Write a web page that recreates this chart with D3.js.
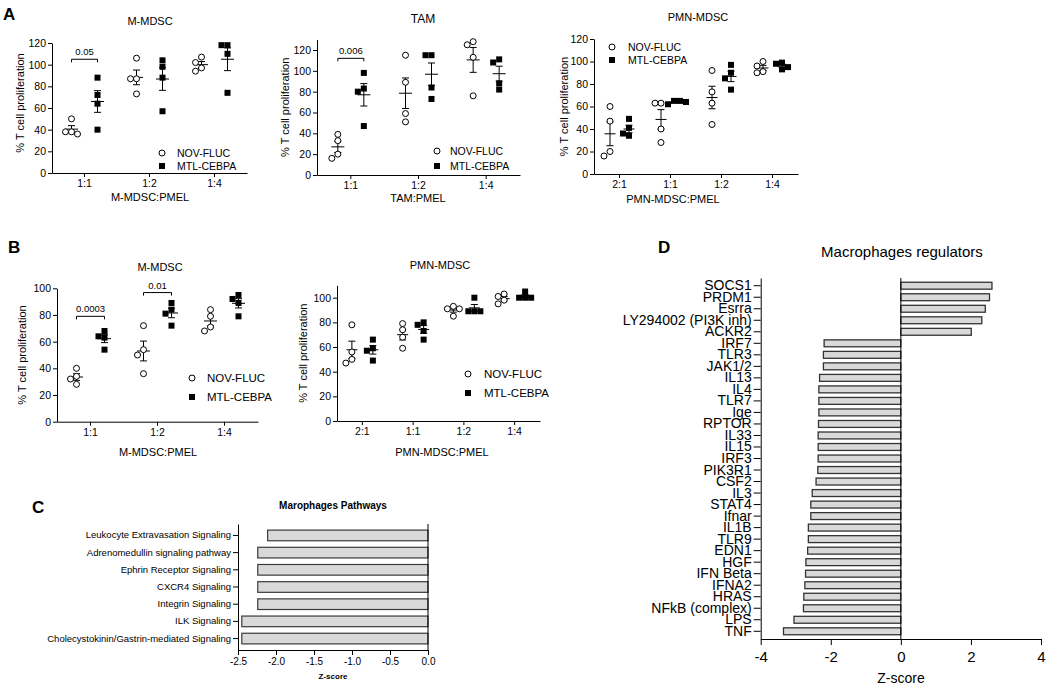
<!DOCTYPE html>
<html>
<head>
<meta charset="utf-8">
<script src="https://cdn.jsdelivr.net/npm/d3@7"></script>
<style>
  body { margin: 0; background: #fff; }
  svg text { font-family: "Liberation Sans", Arial, sans-serif; }
</style>
</head>
<body>
<div id="container"></div>
<script>
// ---- data ----
const seriesNames = ["NOV-FLUC", "MTL-CEBPA"];

// A: M-MDSC
const aMdscGroups = ["1:1", "1:2", "1:4"];
const aMdscNov = [[50, 38, 36, 38], [106, 87, 87, 73], [107, 102, 97, 94]];
const aMdscMtl = [[88, 72, 64, 40], [104, 98, 88, 57], [118, 118, 110, 74]];
// A: TAM
const aTamGroups = ["1:1", "1:2", "1:4"];
const aTamNov = [[39, 33, 16, 20], [115, 89, 59, 51], [125, 128, 113, 76]];
const aTamMtl = [[83, 98, 80, 47], [115, 115, 84, 73], [108, 111, 88, 82]];
// A: PMN-MDSC
const aPmnGroups = ["2:1", "1:1", "1:2", "1:4"];
const aPmnNov = [[16, 47, 60, 20], [63, 63, 40, 28], [92, 73, 63, 44], [96, 100, 90, 91]];
const aPmnMtl = [[34, 41, 49, 36], [62, 64, 65, 65], [97, 90, 85, 75], [99, 98, 95, 93]];
// B: M-MDSC
const bMdscGroups = ["1:1", "1:2", "1:4"];
const bMdscNov = [[40, 34, 32, 28], [72, 54, 50, 36], [84, 79, 71, 68]];
const bMdscMtl = [[68, 64, 63, 54], [89, 84, 81, 72], [95, 92, 89, 79]];
// B: PMN-MDSC
const bPmnGroups = ["2:1", "1:1", "1:2", "1:4"];
const bPmnNov = [[78, 56, 50, 47], [79, 74, 68, 59], [93, 91, 91, 85], [101, 103, 95, 98]];
const bPmnMtl = [[66, 59, 57, 49], [78, 80, 73, 66], [100, 89, 89, 89], [105, 100, 100, 100]];

// C: pathways
const cPathways = ["Leukocyte Extravasation Signaling", "Adrenomedullin signaling pathway",
  "Ephrin Receptor Signaling", "CXCR4 Signaling", "Integrin Signaling", "ILK Signaling",
  "Cholecystokinin/Gastrin-mediated Signaling"];
const cZscore = [-2.11, -2.24, -2.24, -2.24, -2.24, -2.45, -2.45];
const cTicks = [-2.5, -2.0, -1.5, -1.0, -0.5, 0.0];

// D: regulators
const dRegulators = ["SOCS1", "PRDM1", "Esrra", "LY294002 (PI3K inh)", "ACKR2", "IRF7", "TLR3",
  "JAK1/2", "IL13", "IL4", "TLR7", "Ige", "RPTOR", "IL33", "IL15", "IRF3", "PIK3R1", "CSF2", "IL3",
  "STAT4", "Ifnar", "IL1B", "TLR9", "EDN1", "HGF", "IFN Beta", "IFNA2", "HRAS", "NFkB (complex)",
  "LPS", "TNF"];
const dZscore = [2.6, 2.53, 2.41, 2.31, 2.01, -2.19, -2.21, -2.21, -2.32, -2.34, -2.34, -2.34,
  -2.35, -2.36, -2.36, -2.36, -2.37, -2.42, -2.53, -2.57, -2.57, -2.64, -2.64, -2.66, -2.71,
  -2.72, -2.74, -2.77, -2.78, -3.05, -3.35];
const dTicks = [-4, -2, 0, 2, 4];

const width = 1050, height = 686;
const svg = d3.select("#container").append("svg")
  .attr("width", width).attr("height", height);
svg.append("rect").attr("width", width).attr("height", height).attr("fill", "#fff");

const minus = d => (d < 0 ? "-" + Math.abs(d) : "" + d);
const R = 3;    // circle radius
const SQ = 6;   // square side

function styleAxis(sel, size) {
  sel.select(".domain").attr("stroke", "#000");
  sel.selectAll(".tick line").attr("stroke", "#000");
  sel.selectAll(".tick text").attr("fill", "#000").attr("font-size", size)
    .attr("font-family", "Liberation Sans, Arial, sans-serif");
}

// spread points that would overlap, like a small beeswarm
function swarm(vals, y, cx) {
  const placed = [];
  vals.map(v => ({ v, py: y(v) })).sort((a, b) => a.py - b.py).forEach(p => {
    for (const off of [0, -6, 6, -12, 12]) {
      if (placed.every(q => Math.hypot(q.px - (cx + off), q.py - p.py) >= 5.8)) { p.px = cx + off; break; }
    }
    if (p.px == null) p.px = cx;
    placed.push(p);
  });
  return placed;
}

function scatterPanel(p) {
  const g = svg.append("g");
  const yTop = p.y0 - (p.y0 - p.refPx) * p.yMax / p.refVal;
  const x = d3.scaleBand().domain(p.groups).range([p.x0, p.x1]);
  const y = d3.scaleLinear().domain([0, p.yMax]).range([p.y0, yTop]);

  g.append("g").attr("transform", `translate(${p.x0},0)`)
    .call(d3.axisLeft(y).tickValues(d3.range(0, p.yMax + 1, 20)).tickSize(4).tickSizeOuter(0).tickPadding(2))
    .call(s => styleAxis(s, 10.5));
  g.append("g").attr("transform", `translate(0,${p.y0})`)
    .call(d3.axisBottom(x).tickSize(4).tickSizeOuter(0))
    .call(s => styleAxis(s, 10.5));

  g.append("text").attr("x", p.titleX).attr("y", p.titleY).attr("text-anchor", "middle")
    .attr("font-size", p.titleSize || 11).text(p.title);
  g.append("text").attr("x", p.xlabX).attr("y", p.xlabY).attr("text-anchor", "middle")
    .attr("font-size", 11).text(p.xlab);
  g.append("text").attr("transform", `translate(${p.ylabX},${(p.y0 + yTop) / 2 - (p.ylabShift || 0)}) rotate(-90)`)
    .attr("text-anchor", "middle").attr("font-size", 11).text("% T cell proliferation");

  const series = [p.nov, p.mtl];
  series.forEach((data, si) => {
    data.forEach((vals, gi) => {
      const cx = x(p.groups[gi]) + x.bandwidth() / 2 + (si === 0 ? -p.off : p.off);
      const pts = swarm(vals, y, cx);
      const mean = d3.mean(vals);
      const sem = d3.deviation(vals) / Math.sqrt(vals.length);
      const gg = g.append("g");
      gg.append("line").attr("x1", cx).attr("x2", cx).attr("y1", y(mean - sem)).attr("y2", y(mean + sem)).attr("stroke", "#000");
      [mean - sem, mean + sem].forEach(v => gg.append("line")
        .attr("x1", cx - 3.5).attr("x2", cx + 3.5).attr("y1", y(v)).attr("y2", y(v)).attr("stroke", "#000"));
      gg.append("line").attr("x1", cx - p.meanW / 2).attr("x2", cx + p.meanW / 2)
        .attr("y1", y(mean)).attr("y2", y(mean)).attr("stroke", "#000");
      if (si === 0) {
        gg.selectAll("circle").data(pts).join("circle")
          .attr("cx", d => d.px).attr("cy", d => d.py).attr("r", R)
          .attr("fill", "#fff").attr("stroke", "#000").attr("stroke-width", 1);
      } else {
        gg.selectAll("rect").data(pts).join("rect")
          .attr("x", d => d.px - SQ / 2).attr("y", d => d.py - SQ / 2).attr("width", SQ).attr("height", SQ)
          .attr("fill", "#000");
      }
    });
  });

  // significance brackets
  (p.brackets || []).forEach(b => {
    const c = x(p.groups[b.group]) + x.bandwidth() / 2;
    const x1 = c - p.off, x2 = c + p.off, yy = y(b.value);
    g.append("path").attr("d", `M${x1},${yy + 3}V${yy}H${x2}V${yy + 3}`)
      .attr("fill", "none").attr("stroke", "#000");
    g.append("text").attr("x", c).attr("y", yy - 4).attr("text-anchor", "middle")
      .attr("font-size", 9.5).text(b.label);
  });

  // legend
  const lg = g.append("g");
  lg.append("circle").attr("cx", p.legX).attr("cy", p.legY[0]).attr("r", R)
    .attr("fill", "#fff").attr("stroke", "#000");
  lg.append("rect").attr("x", p.legX - SQ / 2).attr("y", p.legY[1] - SQ / 2).attr("width", SQ).attr("height", SQ);
  seriesNames.forEach((n, i) => lg.append("text").attr("x", p.legTextX).attr("y", p.legY[i])
    .attr("dy", "0.36em").attr("font-size", p.legSize).text(n));
}

scatterPanel({ groups: aMdscGroups, nov: aMdscNov, mtl: aMdscMtl, x0: 52, x1: 247, y0: 173, refVal: 120, refPx: 43, yMax: 120,
  off: 13, meanW: 13, title: "M-MDSC", titleX: 150, titleY: 25, xlab: "M-MDSC:PMEL", xlabX: 150, xlabY: 201, ylabX: 24, ylabShift: 5,
  legX: 162, legY: [153, 166], legTextX: 177, legSize: 10.5, brackets: [{ group: 0, value: 105, label: "0.05" }] });
scatterPanel({ groups: aTamGroups, nov: aTamNov, mtl: aTamMtl, x0: 317, x1: 520, y0: 175, refVal: 120, refPx: 50, yMax: 130,
  off: 13, meanW: 13, title: "TAM", titleX: 423, titleY: 23, titleSize: 12, xlab: "TAM:PMEL", xlabX: 418, xlabY: 202, ylabX: 289,
  legX: 437, legY: [151, 166], legTextX: 450, legSize: 10.5, brackets: [{ group: 0, value: 112, label: "0.006" }] });
scatterPanel({ groups: aPmnGroups, nov: aPmnNov, mtl: aPmnMtl, x0: 594, x1: 798, y0: 174, refVal: 120, refPx: 39, yMax: 120,
  off: 9.5, meanW: 11, title: "PMN-MDSC", titleX: 698, titleY: 21, xlab: "PMN-MDSC:PMEL", xlabX: 673, xlabY: 203, ylabX: 568,
  legX: 612, legY: [47, 60], legTextX: 628, legSize: 10.5 });
scatterPanel({ groups: bMdscGroups, nov: bMdscNov, mtl: bMdscMtl, x0: 57, x1: 258, y0: 421.7, refVal: 100, refPx: 288.3, yMax: 100,
  off: 14, meanW: 13, title: "M-MDSC", titleX: 160, titleY: 271, xlab: "M-MDSC:PMEL", xlabX: 158, xlabY: 456, ylabX: 26,
  legX: 192, legY: [378, 397], legTextX: 207, legSize: 11.5,
  brackets: [{ group: 0, value: 79, label: "0.0003" }, { group: 1, value: 96.8, label: "0.01" }] });
scatterPanel({ groups: bPmnGroups, nov: bPmnNov, mtl: bPmnMtl, x0: 337, x1: 540, y0: 421, refVal: 100, refPx: 297.7, yMax: 110,
  off: 10.5, meanW: 11, title: "PMN-MDSC", titleX: 440, titleY: 269, xlab: "PMN-MDSC:PMEL", xlabX: 442, xlabY: 456, ylabX: 307,
  legX: 468, legY: [374, 393], legTextX: 484, legSize: 11.5 });

// ---- C: pathway bars ----
{
  const g = svg.append("g");
  const x = d3.scaleLinear().domain([-2.5, 0]).range([238, 428]);
  const y = d3.scaleBand().domain(cPathways).range([524, 650]).paddingInner(0.38).paddingOuter(0.355);
  g.append("g").attr("transform", "translate(238,0)")
    .call(d3.axisLeft(y).tickSize(5).tickSizeOuter(0).tickPadding(2))
    .call(s => styleAxis(s, 9.5));
  g.append("g").attr("transform", "translate(0,650)")
    .call(d3.axisBottom(x).tickValues(cTicks).tickFormat(d => d.toFixed(1)).tickSize(5).tickSizeOuter(0))
    .call(s => styleAxis(s, 10));
  g.selectAll(".bar").data(cZscore).join("rect").attr("class", "bar")
    .attr("x", d => x(d)).attr("width", d => x(0) - x(d))
    .attr("y", (d, i) => y(cPathways[i])).attr("height", y.bandwidth())
    .attr("fill", "#d9d9d9").attr("stroke", "#3a3a3a").attr("stroke-width", 1.2);
  g.append("line").attr("x1", x(0)).attr("x2", x(0)).attr("y1", 524).attr("y2", 650).attr("stroke", "#000");
  g.append("text").attr("x", 333).attr("y", 509).attr("text-anchor", "middle")
    .attr("font-size", 10).attr("font-weight", "bold").text("Marophages Pathways");
  g.append("text").attr("x", 333).attr("y", 679).attr("text-anchor", "middle")
    .attr("font-size", 8).attr("font-weight", "bold").text("Z-score");
}

// ---- D: regulator bars ----
{
  const g = svg.append("g");
  const x = d3.scaleLinear().domain([-4, 4]).range([760.7, 1041]);
  const y = d3.scaleBand().domain(dRegulators).range([278, 639]).paddingInner(0.4).paddingOuter(0.37);
  g.append("g").attr("transform", "translate(760.7,0)")
    .call(d3.axisLeft(y).tickSize(7).tickSizeOuter(0).tickPadding(2))
    .call(s => styleAxis(s, 14));
  g.append("g").attr("transform", "translate(0,639)")
    .call(d3.axisBottom(x).tickValues(dTicks).tickFormat(minus).tickSize(6).tickSizeOuter(0).tickPadding(6))
    .call(s => styleAxis(s, 15));
  g.selectAll(".bar").data(dZscore).join("rect").attr("class", "bar")
    .attr("x", d => x(Math.min(0, d))).attr("width", d => Math.abs(x(d) - x(0)))
    .attr("y", (d, i) => y(dRegulators[i])).attr("height", y.bandwidth())
    .attr("fill", "#d9d9d9").attr("stroke", "#333").attr("stroke-width", 1.3);
  g.append("line").attr("x1", x(0)).attr("x2", x(0)).attr("y1", 278).attr("y2", 639).attr("stroke", "#000");
  g.append("text").attr("x", 902).attr("y", 257).attr("text-anchor", "middle")
    .attr("font-size", 15).text("Macrophages regulators");
  g.append("text").attr("x", 901).attr("y", 683).attr("text-anchor", "middle")
    .attr("font-size", 14).text("Z-score");
}

// panel letters
[["A", 3, 20], ["B", 8, 253], ["C", 32, 513], ["D", 658, 253]].forEach(([t, x, y]) =>
  svg.append("text").attr("x", x).attr("y", y).attr("font-size", 17).attr("font-weight", "bold").text(t));
</script>
</body>
</html>
